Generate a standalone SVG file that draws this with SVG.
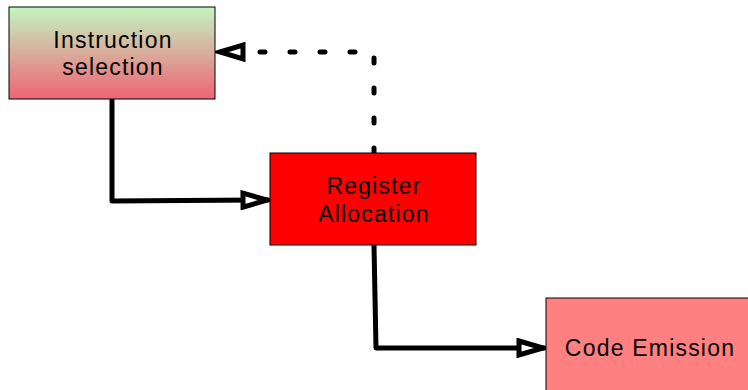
<svg xmlns="http://www.w3.org/2000/svg" width="748" height="390" viewBox="0 0 748 390">
  <defs>
    <linearGradient id="gradSel" x1="0" y1="0" x2="0" y2="1">
      <stop offset="0" stop-color="#c2f5c2"/>
      <stop offset="1" stop-color="#f06474"/>
    </linearGradient>
    <marker id="arrowOpen" viewBox="0 0 30 20" refX="28" refY="10" markerWidth="30" markerHeight="20" markerUnits="userSpaceOnUse" orient="auto">
      <path d="M3,3 L27,10 L3,17 Z" fill="#ffffff" stroke="#000000" stroke-width="5" stroke-linejoin="miter"/>
    </marker>
  </defs>
  <style>
    .box { stroke: #000000; stroke-width: 1; }
    .label { font-family: "Liberation Sans", Arial, sans-serif; font-size: 23px; letter-spacing: 1.2px; fill: #000000; text-anchor: middle; }
    .link { fill: none; stroke: #000000; stroke-width: 5; stroke-linejoin: round; stroke-linecap: round; }
    .dotted { stroke-dasharray: 5 25; }
  </style>
  <rect width="748" height="390" fill="#ffffff"/>

  <g id="connectors">
    <path class="link" d="M112,99 L112,201 L268,200" marker-end="url(#arrowOpen)"/>
    <path class="link" d="M374,245 L376,348 L544,348" marker-end="url(#arrowOpen)"/>
    <path class="link dotted" d="M374,153 L374,52 L243,52"/>
    <path d="M220,52 L243,45 L243,59 Z" fill="#ffffff" stroke="#000000" stroke-width="5"/>
  </g>

  <g id="instruction-selection">
    <rect class="box" x="9" y="7" width="206" height="92" fill="url(#gradSel)"/>
    <text class="label" x="113" y="48">Instruction</text>
    <text class="label" x="113" y="75">selection</text>
  </g>

  <g id="register-allocation">
    <rect class="box" x="270" y="153" width="206" height="92" fill="#ff0000"/>
    <text class="label" x="374" y="194">Register</text>
    <text class="label" x="374" y="222">Allocation</text>
  </g>

  <g id="code-emission">
    <rect class="box" x="546" y="298" width="206" height="96" fill="#ff8080"/>
    <text class="label" x="650" y="356">Code Emission</text>
  </g>
</svg>
